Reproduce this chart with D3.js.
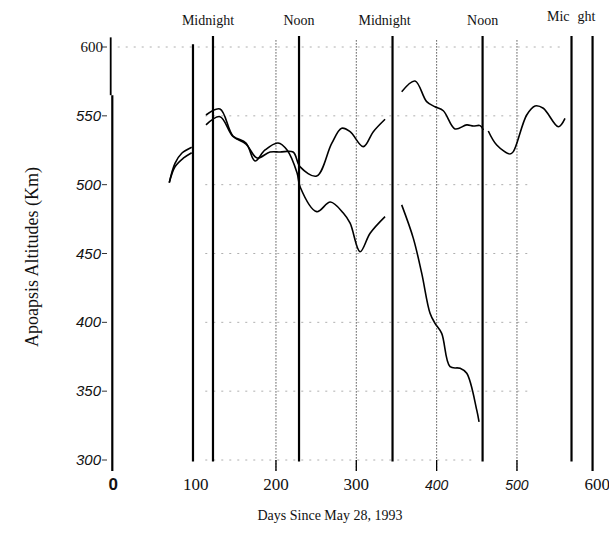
<!DOCTYPE html>
<html>
<head>
<style>
	body { margin: 0; background: #fff; }
	text { fill: #111; }
</style>
</head>
<body>
<div id="vis"></div>
<script src="https://d3js.org/d3.v7.min.js"></script>
<script>
// days since May 28 1993 / apoapsis altitude (km)
var segA1 = [[67.2,501.5],[74.3,515.5],[82.7,522.8],[95.1,527.2]];
var segA2 = [[67.2,501.5],[74.3,513],[84.6,519.2],[95.1,523.2]];

var segB1 = [[112.9,550.6],[130.3,555],[146.5,535.4],[162.7,530.3],[173.9,517.2],[186.4,525.2],
	[202.6,530.3],[213.8,525.2],[226.3,508.5],[230.1,498.3],[250.7,480.4],[267.7,487.4],
	[283.8,479.4],[292.3,472],[304.7,451.3],[317.2,464.7],[335.8,476.8]];
var segB2 = [[112.9,543.4],[130.3,549.4],[146.5,535],[162.7,529.5],[176.4,519.4],[192.6,523.7],
	[205.1,523.7],[221.3,523.7],[230.1,512.9],[250.7,506.3],[269.4,530],[281.8,541],
	[292.3,538.5],[308.7,527.6],[321.2,538.5],[335.8,547.5]];

var segC1a = [[356.5,567.5],[373.1,575.3],[387.6,560.3],[398,556.6],[408.3,553.7],[422.9,540.5],
	[437.5,543.4],[445.7,542.6],[454.1,542.9],[458.2,539.7]];
var segC1b = [[464.3,539],[474.8,528.8],[491.3,522.3],[495.5,524],[512.1,550.6],[522.5,557.2],
	[532.8,555.5],[551.5,542.1],[559.8,548.2]];
var segC2 = [[356.5,485.3],[371,461],[381.4,435.7],[391.8,406.6],[398,399.3],[406.3,392],
	[416.7,367.8],[429.2,366.6],[437.5,363],[449.9,336.4],[452.8,327.7]];

var midnightDays = [121.6, 345.1, 567.9];
var noonDays = [228.7, 457.2];
var breakDays = [96.7, 594.1];
var xTicks = [0,100,200,300,400,500,600];
var yTicks = [300,350,400,450,500,550,600];

var width = 609, height = 542;
var svg = d3.select("#vis").append("svg")
	.attr("width", width).attr("height", height);
svg.append("rect").attr("width", width).attr("height", height).attr("fill", "#fff");

var x = d3.scaleLinear().domain([0, 600]).range([115.3, 597.3]);
var y = d3.scaleLinear().domain([300, 600]).range([460, 47]);

var serif = "'Liberation Serif', 'Times New Roman', serif";
var sans = "'Liberation Sans', Arial, sans-serif";

// dotted grid (faint, as in the scan)
svg.selectAll(".hgrid").data(yTicks).enter().append("line")
	.attr("x1", function(d){ return d == 600 ? x(3) : x(112); })
	.attr("x2", function(d){ return d == 600 ? x(560) : (d == 300 ? x(450) : x(518)); })
	.attr("y1", function(d){ return y(d); }).attr("y2", function(d){ return y(d); })
	.attr("stroke", "#9a9a9a").attr("stroke-width", 0.8).attr("stroke-dasharray", "2,6");

svg.selectAll(".vgrid").data([200,300,400,500]).enter().append("line")
	.attr("x1", function(d){ return x(d); }).attr("x2", function(d){ return x(d); })
	.attr("y1", y(605)).attr("y2", y(292))
	.attr("stroke", "#555").attr("stroke-width", 1).attr("stroke-dasharray", "1.5,1.5");

// left axis (broken)
svg.append("line").attr("x1", 110.7).attr("x2", 110.7).attr("y1", y(607)).attr("y2", y(565))
	.attr("stroke", "#000").attr("stroke-width", 1.8);
svg.append("line").attr("x1", 112.3).attr("x2", 112.3).attr("y1", y(565)).attr("y2", y(292))
	.attr("stroke", "#000").attr("stroke-width", 2.2);

svg.selectAll(".ytick").data(yTicks).enter().append("line")
	.attr("x1", 102).attr("x2", 107)
	.attr("y1", function(d){ return y(d); }).attr("y2", function(d){ return y(d); })
	.attr("stroke", "#333").attr("stroke-width", 1);

svg.selectAll(".ylab").data(yTicks).enter().append("text")
	.attr("x", function(d){ return d == 600 ? 103 : 101; })
	.attr("y", function(d){ return y(d) + 5; })
	.attr("text-anchor", "end")
	.style("font-family", function(d){ return d == 600 ? serif : sans; })
	.style("font-style", function(d){ return d == 600 ? "normal" : "italic"; })
	.style("font-size", "15px")
	.text(function(d){ return d; });

// x ticks
svg.selectAll(".xtick").data([200,300,400,500]).enter().append("line")
	.attr("x1", function(d){ return x(d); }).attr("x2", function(d){ return x(d); })
	.attr("y1", y(300)).attr("y2", y(292))
	.attr("stroke", "#000").attr("stroke-width", 1.3);

svg.selectAll(".xlab").data(xTicks).enter().append("text")
	.attr("x", function(d){ return d == 0 ? x(d) - 2 : x(d); })
	.attr("y", 490)
	.attr("text-anchor", "middle")
	.style("font-family", function(d){ return (d == 0 || d == 400 || d == 500) ? sans : serif; })
	.style("font-style", function(d){ return (d == 400 || d == 500) ? "italic" : "normal"; })
	.style("font-weight", function(d){ return d == 0 ? "bold" : "normal"; })
	.style("font-size", function(d){ return (d == 400 || d == 500) ? "14px" : "17px"; })
	.text(function(d){ return d; });

// midnight / noon markers
var markers = breakDays.concat(midnightDays, noonDays);
svg.selectAll(".mark").data(markers).enter().append("line")
	.attr("x1", function(d){ return x(d); }).attr("x2", function(d){ return x(d); })
	.attr("y1", function(d){ return breakDays.indexOf(d) == 0 ? y(602) : y(608); })
	.attr("y2", function(d){ return d == breakDays[1] ? y(292) : y(299); })
	.attr("stroke", "#000").attr("stroke-width", 2.2);

var topLabs = [[midnightDays[0], "Midnight"], [noonDays[0], "Noon"], [midnightDays[1], "Midnight"], [noonDays[1], "Noon"]];
svg.selectAll(".tlab").data(topLabs).enter().append("text")
	.attr("x", function(d, i){ return x(d[0]) + (i == 0 ? -5 : (i == 2 ? -8 : 0)); })
	.attr("y", 25)
	.attr("text-anchor", "middle")
	.style("font-family", serif).style("font-size", "14px")
	.text(function(d){ return d[1]; });
svg.append("text").attr("x", x(midnightDays[2]) - 2).attr("y", 21).attr("text-anchor", "end")
	.style("font-family", serif).style("font-size", "14px").text("Mic");
svg.append("text").attr("x", x(midnightDays[2]) + 6).attr("y", 21).attr("text-anchor", "start")
	.style("font-family", serif).style("font-size", "14px").text("ght");

// curves
var line = d3.line()
	.x(function(d){ return x(d[0]); })
	.y(function(d){ return y(d[1]); })
	.curve(d3.curveCatmullRom.alpha(0.5));

svg.selectAll(".orbit").data([segA1, segA2, segB1, segB2, segC1a, segC1b, segC2]).enter().append("path")
	.attr("d", line)
	.attr("fill", "none").attr("stroke", "#000").attr("stroke-width", 1.6);

// axis titles
svg.append("text").attr("x", 330).attr("y", 520).attr("text-anchor", "middle")
	.style("font-family", serif).style("font-size", "14px")
	.text("Days Since May 28, 1993");
svg.append("text").attr("transform", "translate(38,257) rotate(-90)").attr("text-anchor", "middle")
	.style("font-family", serif).style("font-size", "18px")
	.text("Apoapsis Altitudes (Km)");
</script>
</body>
</html>
